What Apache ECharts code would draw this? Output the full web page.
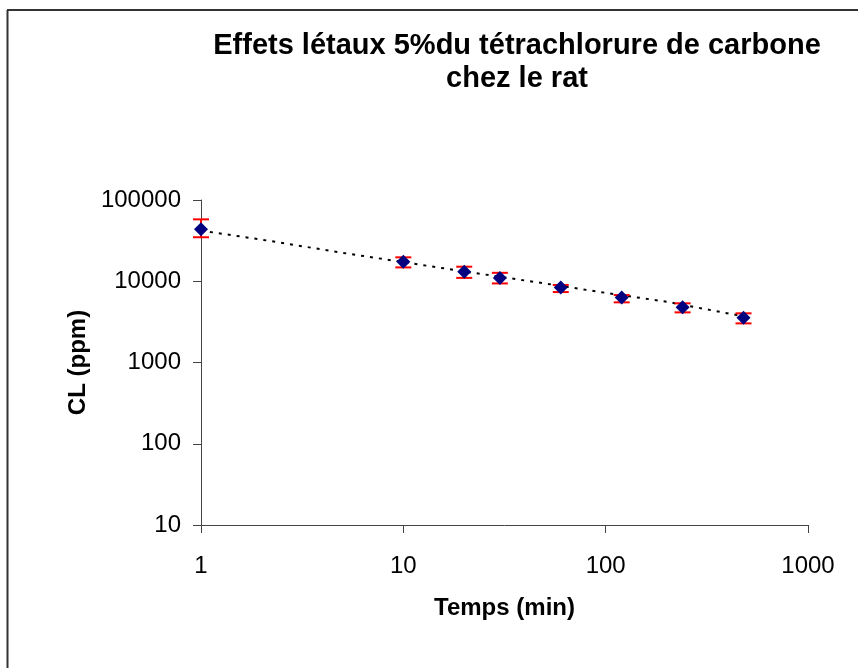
<!DOCTYPE html>
<html>
<head>
<meta charset="utf-8">
<script src="https://cdn.jsdelivr.net/npm/echarts@6/dist/echarts.min.js"></script>
<style>
html,body{margin:0;padding:0;background:#fff;}
#chart{width:858px;height:668px;}
</style>
</head>
<body>
<div id="chart"></div>
<script>
// Data
const times = [1, 10, 20, 30, 60, 120, 240, 480];
const cl = [43600, 17400, 13100, 11000, 8400, 6300, 4770, 3550];
const clHigh = [57800, 19700, 15100, 12700, 9000, 6760, 5350, 4030];
const clLow = [34800, 14800, 11000, 9400, 7360, 5500, 4140, 3030];
const trendX = [1, 2, 5, 10, 20, 50, 100, 200, 480];
const trendY = [42000, 32500, 22400, 17200, 13200, 9400, 7200, 5600, 3700];
const xTickLabels = ['1', '10', '100', '1000'];
const yTickLabels = ['10', '100', '1000', '10000', '100000'];
const titleLines = ['Effets létaux 5%du tétrachlorure de carbone', 'chez le rat'];
const xTitle = 'Temps (min)';
const yTitle = 'CL (ppm)';

const FONT = '"Liberation Sans", Arial, sans-serif';
const chart = echarts.init(document.getElementById('chart'), null, {renderer: 'canvas'});

function fmt(labels) {
  return function (v) {
    const e = Math.round(Math.log10(v));
    const s = String(Math.pow(10, e));
    return labels.indexOf(s) >= 0 ? s : '';
  };
}

const axisColor = '#444';
const option = {
  animation: false,
  backgroundColor: '#fff',
  grid: {left: 201, right: 50, top: 200, bottom: 143},
  graphic: [
    {type: 'line', shape: {x1: 7.5, y1: 10, x2: 7.5, y2: 668}, style: {stroke: '#333', lineWidth: 2}},
    {type: 'line', shape: {x1: 7, y1: 10, x2: 858, y2: 10}, style: {stroke: '#333', lineWidth: 2}},
    {type: 'text', x: 517, y: 46, style: {text: titleLines[0], font: 'bold 29px ' + FONT, fill: '#000', textAlign: 'center', textVerticalAlign: 'middle'}},
    {type: 'text', x: 517, y: 79, style: {text: titleLines[1], font: 'bold 29px ' + FONT, fill: '#000', textAlign: 'center', textVerticalAlign: 'middle'}}
  ],
  xAxis: {
    type: 'log', logBase: 10, min: 1, max: 1000,
    name: xTitle, nameLocation: 'middle', nameGap: 71,
    nameTextStyle: {fontFamily: FONT, fontWeight: 'bold', fontSize: 24, color: '#000'},
    axisLine: {lineStyle: {color: axisColor, width: 1}},
    axisTick: {show: true, length: 8, inside: false, lineStyle: {color: axisColor}},
    minorTick: {show: false},
    splitLine: {show: false},
    axisLabel: {fontFamily: FONT, fontSize: 24, color: '#000', margin: 29, formatter: fmt(xTickLabels)}
  },
  yAxis: {
    type: 'log', logBase: 10, min: 10, max: 100000,
    name: yTitle, nameLocation: 'middle', nameGap: 111, nameRotate: 90,
    nameTextStyle: {fontFamily: FONT, fontWeight: 'bold', fontSize: 24, color: '#000'},
    axisLine: {show: true, lineStyle: {color: axisColor, width: 1}},
    axisTick: {show: true, length: 8, inside: false, lineStyle: {color: axisColor}},
    splitLine: {show: false},
    axisLabel: {fontFamily: FONT, fontSize: 24, color: '#000', margin: 20, formatter: fmt(yTickLabels)}
  },
  series: [
    {
      type: 'line',
      data: trendX.map((x, i) => [x, trendY[i]]),
      showSymbol: false,
      smooth: false,
      lineStyle: {color: '#000', width: 2, type: [3, 6]},
      z: 1
    },
    {
      type: 'custom',
      data: times.map((x, i) => [x, clLow[i], clHigh[i]]),
      renderItem: function (params, api) {
        const lo = api.coord([api.value(0), api.value(1)]);
        const hi = api.coord([api.value(0), api.value(2)]);
        const hw = 8;
        const st = {stroke: '#ff0000', lineWidth: 2};
        return {
          type: 'group',
          children: [
            {type: 'line', shape: {x1: lo[0], y1: lo[1], x2: hi[0], y2: hi[1]}, style: st},
            {type: 'line', shape: {x1: lo[0] - hw, y1: lo[1], x2: lo[0] + hw, y2: lo[1]}, style: st},
            {type: 'line', shape: {x1: hi[0] - hw, y1: hi[1], x2: hi[0] + hw, y2: hi[1]}, style: st}
          ]
        };
      },
      z: 2
    },
    {
      type: 'scatter',
      data: times.map((x, i) => [x, cl[i]]),
      symbol: 'diamond',
      symbolSize: 14,
      itemStyle: {color: '#000080', opacity: 1},
      z: 3
    }
  ]
};
chart.setOption(option);
</script>
</body>
</html>
